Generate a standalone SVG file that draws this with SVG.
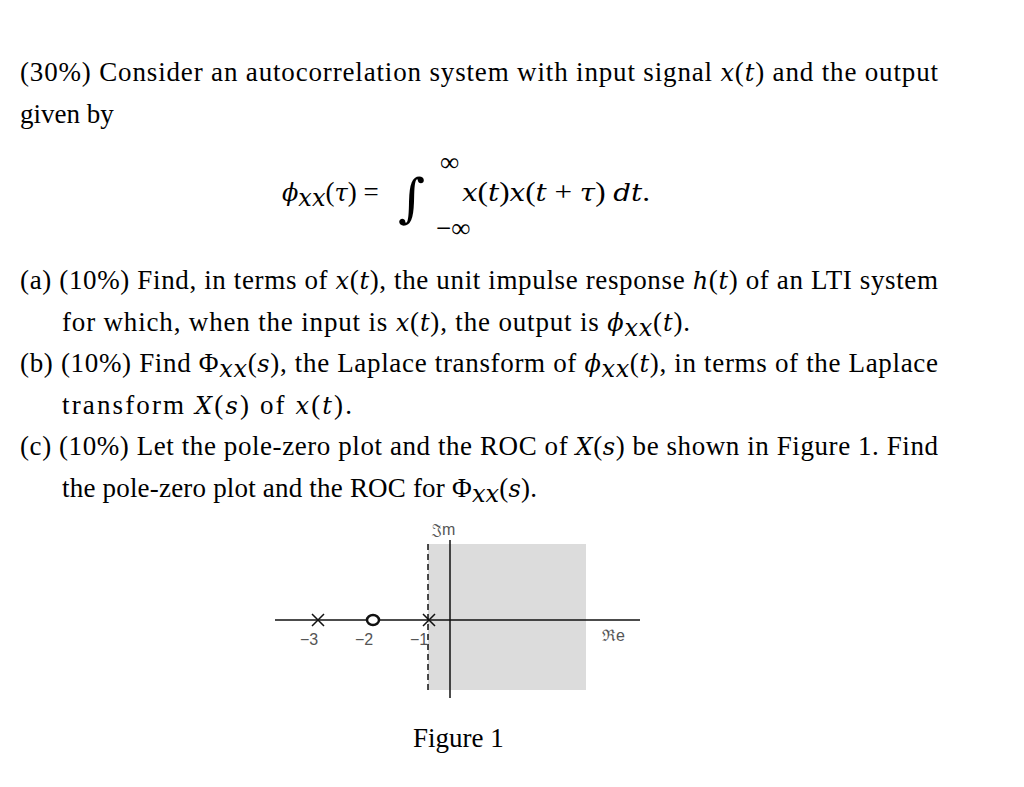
<svg xmlns="http://www.w3.org/2000/svg" width="1024" height="787" viewBox="0 0 1024 787">
<style>
.t{font-family:"Liberation Serif",serif;font-size:27px;fill:#000}
.m{font-family:"DejaVu Serif","Liberation Serif",serif;font-style:italic;font-size:24px}
.s{font-family:"Liberation Sans",sans-serif;font-size:16px;fill:#555}
.ax{stroke:#111;stroke-width:1.5;fill:none}
</style>
<rect width="1024" height="787" fill="#fff"/>
<g id="text">
<text class="t" x="20" y="81" textLength="918" lengthAdjust="spacing">(30%) Consider an autocorrelation system with input signal <tspan class="m">x</tspan>(<tspan class="m">t</tspan>) and the output</text>
<text class="t" x="20" y="123">given by</text>
<text class="t" x="282" y="201"><tspan class="m">ϕ</tspan><tspan class="m" font-size="16" dy="5">xx</tspan><tspan dy="-5">(</tspan><tspan class="m">τ</tspan>) =</text>
<text x="398" y="216" font-family="DejaVu Serif,serif" font-size="52">∫</text>
<text class="t" x="440" y="171" font-size="17">∞</text>
<text class="t" x="436" y="237" font-size="17">−∞</text>
<text class="t" x="462" y="201" textLength="188" lengthAdjust="spacingAndGlyphs"><tspan class="m">x</tspan>(<tspan class="m">t</tspan>)<tspan class="m">x</tspan>(<tspan class="m">t</tspan> + <tspan class="m">τ</tspan>) <tspan class="m">dt</tspan>.</text>
<text class="t" x="20" y="289" textLength="918" lengthAdjust="spacing">(a) (10%) Find, in terms of <tspan class="m">x</tspan>(<tspan class="m">t</tspan>), the unit impulse response <tspan class="m">h</tspan>(<tspan class="m">t</tspan>) of an LTI system</text>
<text class="t" x="62" y="331" textLength="628" lengthAdjust="spacing">for which, when the input is <tspan class="m">x</tspan>(<tspan class="m">t</tspan>), the output is <tspan class="m">ϕ</tspan><tspan class="m" font-size="16" dy="5">xx</tspan><tspan dy="-5">(</tspan><tspan class="m">t</tspan>).</text>
<text class="t" x="20" y="372" textLength="918" lengthAdjust="spacing">(b) (10%) Find Φ<tspan class="m" font-size="16" dy="5">xx</tspan><tspan dy="-5">(</tspan><tspan class="m">s</tspan>), the Laplace transform of <tspan class="m">ϕ</tspan><tspan class="m" font-size="16" dy="5">xx</tspan><tspan dy="-5">(</tspan><tspan class="m">t</tspan>), in terms of the Laplace</text>
<text class="t" x="62" y="414" textLength="290" lengthAdjust="spacing">transform <tspan class="m">X</tspan>(<tspan class="m">s</tspan>) of <tspan class="m">x</tspan>(<tspan class="m">t</tspan>).</text>
<text class="t" x="20" y="455" textLength="918" lengthAdjust="spacing">(c) (10%) Let the pole-zero plot and the ROC of <tspan class="m">X</tspan>(<tspan class="m">s</tspan>) be shown in Figure 1. Find</text>
<text class="t" x="62" y="497" textLength="475" lengthAdjust="spacing">the pole-zero plot and the ROC for Φ<tspan class="m" font-size="16" dy="5">xx</tspan><tspan dy="-5">(</tspan><tspan class="m">s</tspan>).</text>
<text class="t" x="413" y="747">Figure 1</text>
</g>
<g id="plot">
<rect x="428" y="544" width="158" height="146" fill="#dcdcdc"/>
<line class="ax" x1="428" y1="544" x2="428" y2="690" stroke-dasharray="6,4"/>
<line class="ax" x1="450" y1="540" x2="450" y2="698"/>
<line class="ax" x1="275" y1="620" x2="640" y2="620"/>
<path class="ax" d="M312 614l12 12M312 626l12-12M423 614l12 12M423 626l12-12" stroke-width="2"/>
<ellipse cx="373" cy="620" rx="6" ry="5" fill="#fff" stroke="#111" stroke-width="2.5"/>
<text class="s" x="300" y="645">−3</text>
<text class="s" x="355" y="645">−2</text>
<text class="s" x="410" y="645">−1</text>
<text class="s" x="432" y="535" font-family="Liberation Serif,serif" font-size="17">𝔍m</text>
<text class="s" x="602" y="641" font-family="Liberation Serif,serif" font-size="17">ℜe</text>
</g>
</svg>
